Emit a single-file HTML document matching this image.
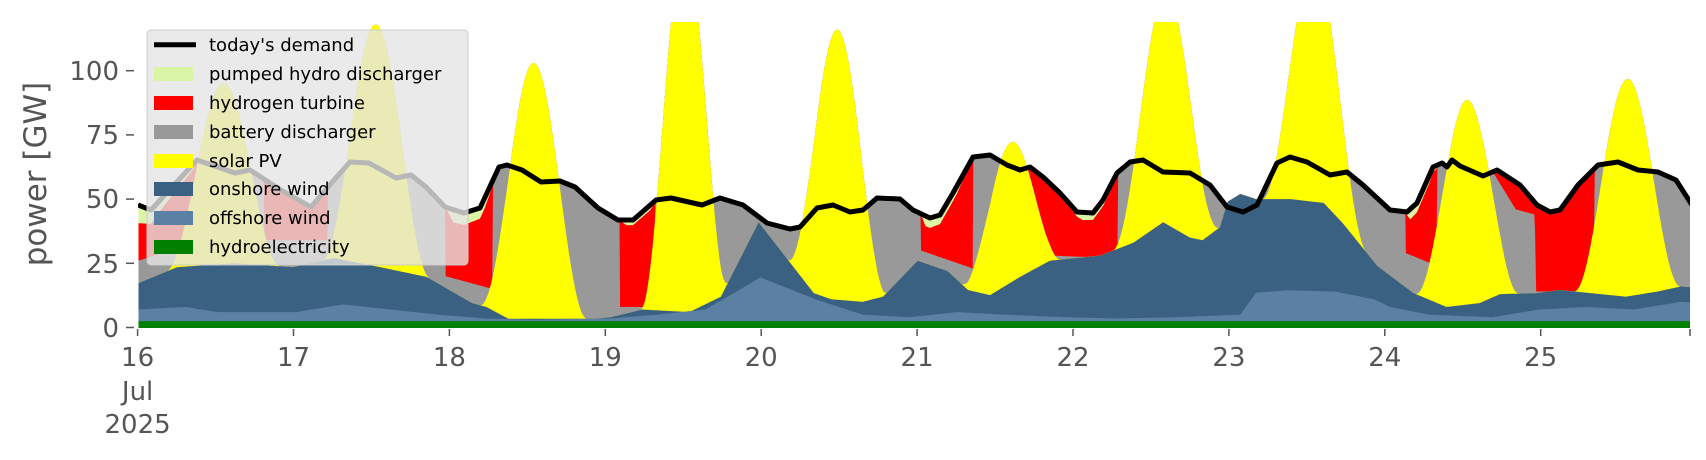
<!DOCTYPE html>
<html><head><meta charset="utf-8"><style>
html,body{margin:0;padding:0;background:#fff;}
svg{display:block;}
text{font-family:"DejaVu Sans","Liberation Sans",sans-serif;}
</style></head><body>
<svg id="s" width="1706" height="460" viewBox="0 0 1706 460" xmlns="http://www.w3.org/2000/svg">
<defs><clipPath id="cp"><rect x="138" y="22" width="1552" height="306"/></clipPath></defs>
<g id="layers" clip-path="url(#cp)"></g>
<g id="axes" fill="#555" font-size="26">
  <text x="119" y="337" text-anchor="end">0</text>
  <text x="119" y="273" text-anchor="end">25</text>
  <text x="119" y="208" text-anchor="end">50</text>
  <text x="119" y="144" text-anchor="end">75</text>
  <text x="119" y="80" text-anchor="end">100</text>
  <text transform="translate(46,174) rotate(-90)" text-anchor="middle" font-size="31">power [GW]</text>
  <text x="137.6" y="366" text-anchor="middle">16</text>
  <text x="137.6" y="400" text-anchor="middle">Jul</text>
  <text x="137.6" y="433" text-anchor="middle">2025</text>
</g>
<g id="ticks"></g>
<g id="legend">
  <rect x="147" y="30" width="321" height="235" rx="4" fill="#e5e5e5" fill-opacity="0.8" stroke="#cccccc" stroke-width="1"/>
  <line x1="154" y1="44.7" x2="196" y2="44.7" stroke="#000" stroke-width="5"/>
  <rect x="154" y="67" width="39" height="14" fill="#daf5a5"/>
  <rect x="154" y="96" width="39" height="14" fill="#ff0000"/>
  <rect x="154" y="125" width="39" height="14" fill="#999999"/>
  <rect x="154" y="154" width="39" height="14" fill="#ffff00"/>
  <rect x="154" y="182" width="39" height="14" fill="#3b6182"/>
  <rect x="154" y="211" width="39" height="14" fill="#5b80a3"/>
  <rect x="154" y="240" width="39" height="14" fill="#008000"/>
  <g font-size="18" fill="#000">
    <text x="209" y="51">today's demand</text>
    <text x="209" y="80">pumped hydro discharger</text>
    <text x="209" y="109">hydrogen turbine</text>
    <text x="209" y="138">battery discharger</text>
    <text x="209" y="167">solar PV</text>
    <text x="209" y="195">onshore wind</text>
    <text x="209" y="224">offshore wind</text>
    <text x="209" y="253">hydroelectricity</text>
  </g>
</g>
</svg>
<script>
(function(){
const NS="http://www.w3.org/2000/svg";
const X=d=>138.5+(d-16)*157.4, Y=g=>327.5-g*2.568;
const XT=d=>137.6+(d-16)*155.9;
function interp(L,t){ if(t<=L[0][0])return L[0][1]; for(let i=1;i<L.length;i++){ if(t<=L[i][0]){const a=L[i-1],b=L[i];const f=(t-a[0])/(b[0]-a[0]||1);return a[1]+f*(b[1]-a[1]);}} return L[L.length-1][1];}
const dpx=[[138,205],[151,210],[197,160],[235,173],[250,170],[281,190],[311,207],[334,180],[350,162],[369,163],[396,178],[411,175],[426,187],[445,207],[464,213],[480,208],[499,167],[507,165],[522,170],[541,182],[560,181],[575,187],[598,208],[618,220],[633,220],[656,200],[671,198],[702,205],[720,198],[743,205],[767,223],[790,229],[800,227],[817,208],[833,205],[850,212],[863,210],[877,198],[900,199],[913,210],[930,218],[940,215],[953,193],[973,157],[990,155],[1007,165],[1020,170],[1030,167],[1043,177],[1060,193],[1077,212],[1093,213],[1103,200],[1117,173],[1130,162],[1143,160],[1163,172],[1190,173],[1210,185],[1227,207],[1243,212],[1257,205],[1277,163],[1290,157],[1307,162],[1330,175],[1347,172],[1363,185],[1390,210],[1407,212],[1417,203],[1433,167],[1442,163],[1447,167],[1452,160],[1460,166],[1483,176],[1497,170],[1520,185],[1537,205],[1550,212],[1560,210],[1578,185],[1598,165],[1618,162],[1638,170],[1658,172],[1676,180],[1692,205]];
const demL=dpx.map(p=>[16+(p[0]-138.5)/157.4,(327.5-p[1])/2.568]);
const offL=[[16,7],[16.3,8],[16.5,6],[17,6],[17.3,9],[17.6,7],[17.9,5],[18.2,3.5],[18.5,3],[19,3.5],[19.3,5],[19.6,7],[19.8,14],[19.95,19.5],[20.3,11],[20.6,5],[20.9,4],[21.2,6],[21.5,5],[21.9,4],[22.2,3.5],[22.6,4],[23.0,5],[23.1,13.5],[23.3,14.5],[23.6,14],[23.85,11],[23.95,8],[24.2,5],[24.6,4],[24.9,7],[25.2,8],[25.5,7],[25.8,10],[26,9]];
const onL=[[16,17.3],[16.245,23.5],[16.61,25],[16.98,23.5],[17.24,27],[17.535,23.5],[17.83,19.7],[18.12,9.5],[18.21,8],[18.35,3.4],[18.9,3.4],[19.0,4],[19.2,7],[19.5,6],[19.7,12],[19.94,41],[20.29,13.4],[20.4,11],[20.6,10],[20.73,12],[20.95,26],[21.14,22],[21.27,14.6],[21.41,12.6],[21.6,19.7],[21.79,26],[22.11,28],[22.32,33],[22.51,41],[22.68,35],[22.76,34],[22.87,39],[22.92,49],[23.0,52],[23.1,50],[23.32,50],[23.53,48.5],[23.65,40.7],[23.87,24],[24.1,13.4],[24.31,8],[24.52,9.5],[24.65,13],[24.88,13.4],[25.03,14.6],[25.45,12],[25.65,14],[25.8,16],[26,15]];
const peaks=[[16.54,95,.36],[17.51,118,.34],[18.51,103,.34],[19.47,150,.28],[20.44,116,.32],[21.54,72,.32],[22.53,132,.34],[23.47,142,.33],[24.44,88.6,.33],[25.46,96.7,.34]];
const grayL=[[16.0,26],[16.2,30],[16.4,30],[16.45,999],[16.75,999],[16.8,34],[17.2,34],[17.25,999],[17.94,999],[17.95,20],[18.25,15],[18.3,999],[19.05,999],[19.06,8],[19.28,8],[19.3,999],[20.96,999],[20.97,30],[21.3,23],[21.32,999],[21.63,999],[21.64,45],[21.72,35],[21.8,28],[22.22,27],[22.24,999],[24.04,999],[24.05,29],[24.25,24],[24.27,999],[24.6,999],[24.61,60],[24.75,46],[24.87,44],[24.88,14],[25.25,14],[25.27,999],[26,999]];
const pumpL=[[16.0,7],[16.15,4],[16.35,2],[16.4,0],[17.95,0],[18.0,5],[18.2,4],[18.3,0],[19.05,0],[19.1,2],[19.25,2],[19.3,0],[20.97,0],[21.0,4],[21.2,3],[21.3,0],[21.9,0],[22.0,3],[22.2,2],[22.25,0],[24.05,0],[24.08,4],[24.2,3],[24.28,0],[26,0]];
const tops={hy:[],off:[],on:[],sol:[],gr:[],red:[],pump:[]};
const t0=16,t1=25.87;
for(let t=t0;t<=t1+1e-9;t+=0.004){
  const dem=interp(demL,t);
  const hy=2.5;
  const off=Math.max(hy,interp(offL,t));
  const on=Math.max(off,interp(onL,t));
  let sol=on;
  for(const p of peaks){const dt=Math.abs(t-p[0]);if(dt<p[2]){const A=p[1]-interp(onL,p[0]);const c=Math.cos(Math.PI/2*dt/p[2]);sol+=A*c*c;}}
  const gr=Math.max(sol,Math.min(interp(grayL,t),dem));
  const red=Math.max(gr,dem-interp(pumpL,t));
  const pump=Math.max(red,dem);
  const x=X(t);
  tops.hy.push([x,Y(hy)]);tops.off.push([x,Y(off)]);tops.on.push([x,Y(on)]);tops.sol.push([x,Y(sol)]);tops.gr.push([x,Y(gr)]);tops.red.push([x,Y(red)]);tops.pump.push([x,Y(pump)]);
}
const g=document.getElementById('layers');
const order=[['pump','#daf5a5'],['red','#ff0000'],['gr','#999999'],['sol','#ffff00'],['on','#3b6182'],['off','#5b80a3'],['hy','#008000']];
for(const [k,c] of order){
  const pts=tops[k];
  let d='M'+pts.map(p=>p[0].toFixed(1)+','+p[1].toFixed(1)).join('L');
  d+='L'+pts[pts.length-1][0].toFixed(1)+',328L'+pts[0][0].toFixed(1)+',328Z';
  const el=document.createElementNS(NS,'path');el.setAttribute('d',d);el.setAttribute('fill',c);g.appendChild(el);
}
const dl=document.createElementNS(NS,'polyline');
dl.setAttribute('points',dpx.map(p=>p[0]+','+p[1]).join(' '));
dl.setAttribute('fill','none');dl.setAttribute('stroke','#000');dl.setAttribute('stroke-width','5');dl.setAttribute('stroke-linejoin','round');
g.appendChild(dl);
const tk=document.getElementById('ticks');
function ln(x1,y1,x2,y2){const l=document.createElementNS(NS,'line');l.setAttribute('x1',x1);l.setAttribute('x2',x2);l.setAttribute('y1',y1);l.setAttribute('y2',y2);l.setAttribute('stroke','#555');l.setAttribute('stroke-width','1.5');tk.appendChild(l);}
for(const gv of [0,25,50,75,100]) ln(126,Y(gv),134,Y(gv));
const ax=document.getElementById('axes');
for(let d=16;d<=25;d++){const x=XT(d);ln(x,329,x,336);
 if(d>16){const tx=document.createElementNS(NS,'text');tx.setAttribute('x',x);tx.setAttribute('y',366);tx.setAttribute('text-anchor','middle');tx.textContent=String(d);ax.appendChild(tx);}}
ln(1690,329,1690,336);
})();
</script>
</body></html>
